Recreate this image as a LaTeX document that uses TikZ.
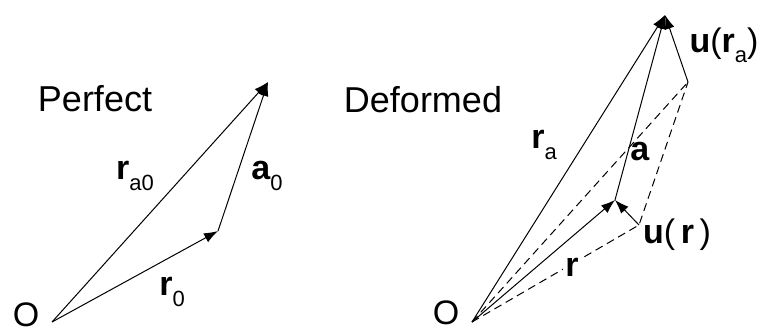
\documentclass[tikz,border=0pt]{standalone}
\usepackage{fontspec}
\setmainfont{Liberation Sans}
\usetikzlibrary{arrows.meta, positioning}
\newcommand{\vsub}[1]{\raisebox{-0.3em}{\fontsize{11}{12}\selectfont #1}}
\tikzset{
  vec/.style={-{Latex[length=7pt,width=5pt]}, line width=0.5pt},
  ghost/.style={dash pattern=on 4pt off 2.5pt, line width=0.5pt},
  lbl/.style={font=\fontsize{17}{19}\selectfont, inner sep=0pt},
  heading/.style={font=\fontsize{18}{20}\selectfont, inner sep=0pt}
}

\begin{document}
\begin{tikzpicture}[x=0.5pt, y=-0.5pt]
    \useasboundingbox (0,0) rectangle (764,333);
    % perfect lattice
    \coordinate (o1) at (52,322);
    \coordinate (r0) at (218,231);
    \coordinate (ra0) at (268,82);
    \draw[vec] (o1) -- (r0);
    \draw[vec] (r0) -- (ra0);
    \draw[vec] (o1) -- (ra0);
    \node[heading] (perf) at (95,99) {Perfect};
    \node[lbl] (lo1) at (26,315) {O};
    \node[lbl] (lr0) at (172,292) {\textbf{r}\vsub{0}};
    \node[lbl] (la0) at (267,176) {\textbf{a}\vsub{0}};
    \node[lbl] (lra0) at (135,176) {\textbf{r}\vsub{a0}};
    % deformed lattice
    \coordinate (o2) at (472,322);
    \coordinate (p) at (615,200);
    \coordinate (p0) at (639,225);
    \coordinate (q0) at (688,82);
    \coordinate (q) at (665,15);
    \draw[ghost] (o2) -- (p0) -- (q0);
    \draw[ghost] (o2) -- (q0);
    \draw[vec] (o2) -- (p);
    \draw[vec] (p0) -- (p);
    \draw[vec] (p) -- (q);
    \draw[vec] (q0) -- (q);
    \draw[vec] (o2) -- (q);
    \node[heading] (def) at (423,100) {Deformed};
    \node[lbl] (lo2) at (446,313) {O};
    \node[lbl, fill=white, inner sep=1pt] (lr) at (572,267) {\textbf{r}};
    \node[lbl] (lra) at (544,145) {\textbf{r}\vsub{a}};
    \node[lbl] (la) at (640,152) {\textbf{a}};
    \node[lbl] (lur) at (677,235) {\textbf{u}(\,\textbf{r}\,)};
    \node[lbl] (lura) at (724,45) {\textbf{u}(\textbf{r}\vsub{a})};
\end{tikzpicture}
\end{document}
